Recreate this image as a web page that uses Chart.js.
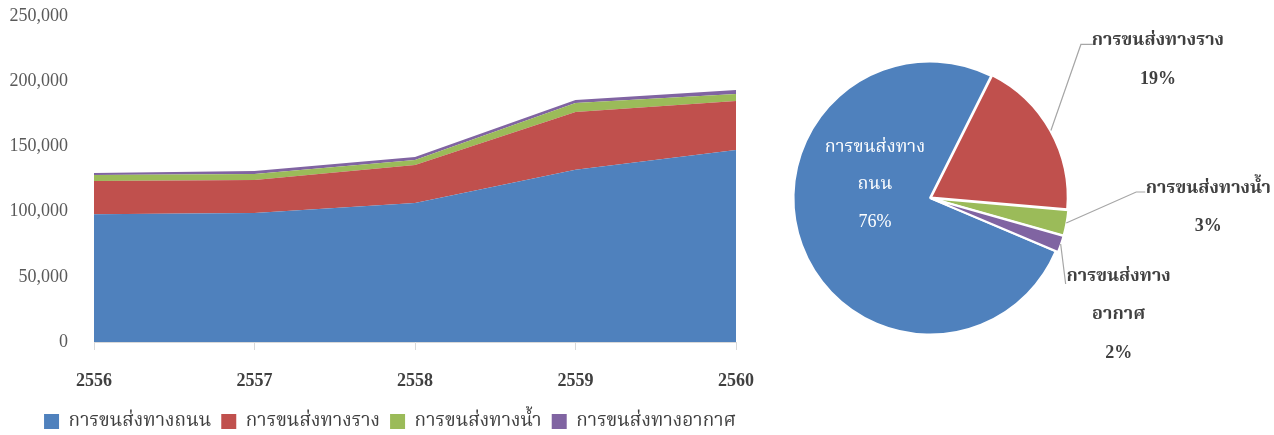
<!DOCTYPE html>
<html>
<head>
<meta charset="utf-8">
<script src="https://cdn.jsdelivr.net/npm/chart.js@4/dist/chart.umd.min.js"></script>
<style>
  body { margin: 0; background: #fff; }
  #wrap { position: relative; width: 1274px; height: 435px; }
  #areaChart { position: absolute; left: 0; top: 0; }
  #pieChart { position: absolute; left: 780px; top: 0; }
</style>
</head>
<body>
<div id="wrap">
  <canvas id="areaChart" width="780" height="435"></canvas>
  <canvas id="pieChart" width="494" height="435"></canvas>
</div>
<script>
// ปริมาณการขนส่งสินค้า แยกตามรูปแบบการขนส่ง
const years = ["2556", "2557", "2558", "2559", "2560"];
const modes = ["การขนส่งทางถนน", "การขนส่งทางราง", "การขนส่งทางน้ำ", "การขนส่งทางอากาศ"];
const road  = [98000, 98900, 106500, 132000, 147200];
const rail  = [25500, 25300, 29200, 44400, 37600];
const water = [4500, 4600, 3900, 6900, 5400];
const air   = [1600, 2300, 2300, 2300, 3050];

// สัดส่วนปี 2560 (%)
const shares = [76, 19, 3, 2];
const colors = ["#4F81BD", "#C0504D", "#9BBB59", "#8064A2"];

const serif = "'Liberation Serif', 'Times New Roman', 'Noto Serif Thai', serif";
const series = [road, rail, water, air];

new Chart("areaChart", {
  type: "line",
  data: {
    labels: years,
    datasets: series.map((vals, i) => ({
      label: modes[i],
      data: vals,
      fill: i === 0 ? "origin" : "-1",
      backgroundColor: colors[i],
      borderColor: colors[i],
      borderWidth: 0,
      pointRadius: 0,
      tension: 0
    }))
  },
  options: {
    responsive: false,
    animation: false,
    layout: { padding: { left: 0, right: 0, top: 16, bottom: -6 } },
    plugins: {
      tooltip: { enabled: false },
      legend: {
        position: "bottom",
        labels: {
          boxWidth: 15, boxHeight: 15, padding: 10,
          color: "#404040",
          font: { family: serif, size: 19 }
        }
      }
    },
    scales: {
      x: {
        offset: false,
        grid: { display: true, drawOnChartArea: false, tickLength: 8, color: "#d9d9d9" },
        border: { color: "#d9d9d9" },
        afterFit: s => { s.height = 60; s.paddingLeft = 0; s.paddingRight = 0; },
        ticks: { padding: 21, color: "#404040", font: { family: serif, size: 18, weight: "bold" }, maxRotation: 0 }
      },
      y: {
        stacked: true,
        min: 0, max: 250000,
        grid: { display: false },
        border: { display: false },
        afterFit: s => { s.width = 94; s.paddingTop = 0; s.paddingBottom = 0; },
        ticks: {
          stepSize: 50000, padding: 18, color: "#595959",
          font: { family: serif, size: 18 },
          callback: v => v.toLocaleString("en-US")
        }
      },
      // แกนว่างด้านขวา กันที่ให้ป้ายปีสุดท้าย
      yRight: {
        position: "right",
        grid: { display: false },
        border: { display: false },
        ticks: { display: false },
        afterFit: s => { s.width = 44; s.paddingTop = 0; s.paddingBottom = 0; }
      }
    }
  }
});

// ป้ายชื่อพร้อมเส้นโยงของแผนภูมิวงกลม (ระยะเป็นพิกเซลจากจุดขอบชิ้น)
const pieLabelLayout = [
  { inside: true, dx: -55, dy: -51, lines: ["การขนส่งทาง", "ถนน"] },
  { elbow: [30, -86], end: [42, -86], text: [107, -90], lines: ["การขนส่งทางราง"] },
  { elbow: [70, -31], end: [79, -31], text: [142, -35], lines: ["การขนส่งทางน้ำ"] },
  { elbow: [5, 40], end: [5, 40], text: [58, 32], lines: ["การขนส่งทาง", "อากาศ"] }
];

const pieLabels = {
  id: "pieLabels",
  afterDatasetsDraw(chart) {
    const ctx = chart.ctx;
    const meta = chart.getDatasetMeta(0);
    ctx.save();
    ctx.textAlign = "center";
    ctx.textBaseline = "middle";
    meta.data.forEach((arc, i) => {
      const p = arc.getProps(["x", "y", "startAngle", "endAngle", "outerRadius"], true);
      const mid = (p.startAngle + p.endAngle) / 2;
      const lay = pieLabelLayout[i];
      const pct = shares[i] + "%";
      if (lay.inside) {
        const bx = p.x + lay.dx, by = p.y + lay.dy;
        ctx.fillStyle = "#ffffff";
        ctx.font = "18px " + serif;
        lay.lines.concat([pct]).forEach((t, k) => ctx.fillText(t, bx, by + k * 37.5));
        return;
      }
      const ox = p.x + Math.cos(mid) * (p.outerRadius + 2);
      const oy = p.y + Math.sin(mid) * (p.outerRadius + 2);
      ctx.strokeStyle = "#a6a6a6";
      ctx.lineWidth = 1.2;
      ctx.beginPath();
      ctx.moveTo(ox, oy);
      ctx.lineTo(ox + lay.elbow[0], oy + lay.elbow[1]);
      ctx.lineTo(ox + lay.end[0], oy + lay.end[1]);
      ctx.stroke();
      ctx.fillStyle = "#404040";
      ctx.font = "bold 18px " + serif;
      const tx = ox + lay.text[0], ty = oy + lay.text[1];
      lay.lines.concat([pct]).forEach((t, k) => ctx.fillText(t, tx, ty + k * 38.5));
    });
    ctx.restore();
  }
};

new Chart("pieChart", {
  type: "pie",
  data: {
    labels: modes,
    datasets: [{
      data: shares,
      backgroundColor: colors,
      borderColor: "#ffffff",
      borderWidth: 2,
      offset: [0, 5, 5, 5]
    }]
  },
  options: {
    responsive: false,
    animation: false,
    rotation: 113,
    layout: { padding: { left: 10, right: 204, top: 58, bottom: 97 } },
    plugins: { legend: { display: false }, tooltip: { enabled: false } }
  },
  plugins: [pieLabels]
});
</script>
</body>
</html>
